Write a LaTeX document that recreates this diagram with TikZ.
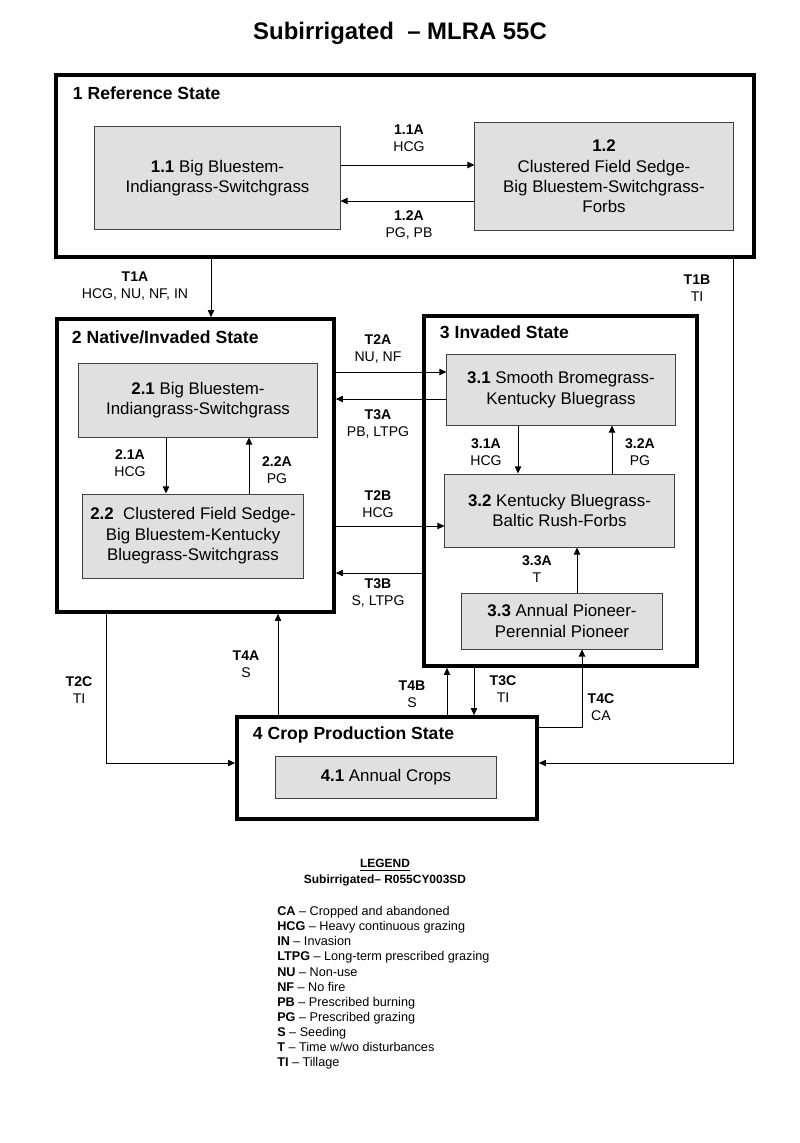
\documentclass[tikz,border=0pt]{standalone}
\usepackage{fontspec}
\setmainfont{Liberation Sans}
\usetikzlibrary{arrows.meta}

\begin{document}
\begin{tikzpicture}[x=0.025cm, y=-0.025cm,
  state/.style={draw, line width=2.6pt, inner sep=0pt},
  stitle/.style={anchor=west, font=\fontsize{12.5}{15}\selectfont\bfseries},
  comm/.style={draw=black!75, fill=black!12, line width=0.7pt, align=center, inner sep=0pt, font=\fontsize{12}{14.5}\selectfont},
  lbl/.style={align=center, font=\fontsize{10}{12.2}\selectfont},
  legitem/.style={anchor=base west, inner sep=0pt, font=\fontsize{9}{11}\selectfont},
  arr/.style={-{Triangle[length=5pt,width=4.5pt]}, line width=0.6pt}]
\path[fill=white, use as bounding box] (0,0) rectangle (800,1143);

% Title
\node[font=\fontsize{17}{20}\selectfont\bfseries] (title) at (400,33) {Subirrigated \ – MLRA 55C};

% State 1
\node[state, minimum width=17.45cm, minimum height=4.55cm] (s1) at (405,166) {};
\node[stitle] (t1) at (68,93) {1 Reference State};
\node[comm, minimum width=6.125cm, minimum height=2.55cm] (b11) at (217.5,178) {\textbf{1.1} Big Bluestem-\\Indiangrass-Switchgrass};
\node[comm, minimum width=6.45cm, minimum height=2.675cm] (b12) at (604,176.5) {\textbf{1.2}\\Clustered Field Sedge-\\Big Bluestem-Switchgrass-\\Forbs};
\draw[arr] (b11.east |- 0,165) -- (b12.west |- 0,165);
\draw[arr] (b12.west |- 0,201) -- (b11.east |- 0,201);
\node[lbl] (l11a) at (409,138) {\textbf{1.1A}\\HCG};
\node[lbl] (l12a) at (409,225) {\textbf{1.2A}\\PG, PB};

% State 2
\node[state, minimum width=6.925cm, minimum height=7.325cm] (s2) at (195.5,465.5) {};
\node[stitle] (t2) at (67,337) {2 Native/Invaded State};
\node[comm, minimum width=5.95cm, minimum height=1.85cm] (b21) at (198,400) {\textbf{2.1} Big Bluestem-\\Indiangrass-Switchgrass};
\node[comm, minimum width=5.5cm, minimum height=2.1cm] (b22) at (193,536) {\textbf{2.2} \ Clustered Field Sedge-\\Big Bluestem-Kentucky\\Bluegrass-Switchgrass};
\draw[arr] (b21.south -| 166,0) -- (b22.north -| 166,0);
\draw[arr] (b22.north -| 249,0) -- (b21.south -| 249,0);
\node[lbl] (l21a) at (130,463) {\textbf{2.1A}\\HCG};
\node[lbl] (l22a) at (277,470) {\textbf{2.2A}\\PG};

% State 3
\node[state, minimum width=6.825cm, minimum height=8.75cm] (s3) at (560.5,491) {};
\node[stitle] (t3) at (435,332) {3 Invaded State};
\node[comm, minimum width=5.7cm, minimum height=1.775cm] (b31) at (561,389.5) {\textbf{3.1} Smooth Bromegrass-\\Kentucky Bluegrass};
\node[comm, minimum width=5.725cm, minimum height=1.825cm] (b32) at (559.5,510.5) {\textbf{3.2} Kentucky Bluegrass-\\Baltic Rush-Forbs};
\node[comm, minimum width=5cm, minimum height=1.4cm] (b33) at (562,621) {\textbf{3.3} Annual Pioneer-\\Perennial Pioneer};
\draw[arr] (b31.south -| 518,0) -- (b32.north -| 518,0);
\draw[arr] (b32.north -| 612,0) -- (b31.south -| 612,0);
\draw[arr] (b33.north -| 577,0) -- (b32.south -| 577,0);
\node[lbl] (l31a) at (486,452) {\textbf{3.1A}\\HCG};
\node[lbl] (l32a) at (640,452) {\textbf{3.2A}\\PG};
\node[lbl] (l33a) at (537,569) {\textbf{3.3A}\\T};

% State 4
\node[state, minimum width=7.5cm, minimum height=2.55cm] (s4) at (387,768) {};
\node[stitle] (t4) at (248,735) {4 Crop Production State};
\node[comm, minimum width=5.5cm, minimum height=1.05cm] (b41) at (386,777) {\textbf{4.1} Annual Crops};

% Transitions between states
\draw[arr] (s1.south -| 211,0) -- (s2.north -| 211,0);
\node[lbl] (lt1a) at (135,286) {\textbf{T1A}\\HCG, NU, NF, IN};
\draw[arr] (s1.south -| 733,0) |- (s4.east |- 0,763);
\node[lbl] (lt1b) at (697,288) {\textbf{T1B}\\TI};
\draw[arr] (s2.east |- 0,372) -- (b31.west |- 0,372);
\node[lbl] (lt2a) at (378,349) {\textbf{T2A}\\NU, NF};
\draw[arr] (b31.west |- 0,399) -- (s2.east |- 0,399);
\node[lbl] (lt3a) at (378,424) {\textbf{T3A}\\PB, LTPG};
\draw[arr] (s2.east |- 0,526) -- (b32.west |- 0,526);
\node[lbl] (lt2b) at (378,504) {\textbf{T2B}\\HCG};
\draw[arr] (s3.west |- 0,573) -- (s2.east |- 0,573);
\node[lbl] (lt3b) at (378,593) {\textbf{T3B}\\S, LTPG};
\draw[arr] (s2.south -| 106,0) |- (s4.west |- 0,763);
\node[lbl] (lt2c) at (79,690) {\textbf{T2C}\\TI};
\draw[arr] (s4.north -| 278,0) -- (s2.south -| 278,0);
\node[lbl] (lt4a) at (246,664) {\textbf{T4A}\\S};
\draw[arr] (s4.north -| 447,0) -- (s3.south -| 447,0);
\node[lbl] (lt4b) at (412,694) {\textbf{T4B}\\S};
\draw[arr] (s3.south -| 474,0) -- (s4.north -| 474,0);
\node[lbl] (lt3c) at (503,689) {\textbf{T3C}\\TI};
\draw[arr] (s4.east |- 0,727) -| (b33.south -| 582,0);
\node[lbl] (lt4c) at (601,707) {\textbf{T4C}\\CA};

% Legend
\node[font=\fontsize{8.5}{10}\selectfont\bfseries] (leghead) at (385,865) {\underline{LEGEND}};
\node[font=\fontsize{8.5}{10}\selectfont\bfseries] (legsite) at (385,880) {Subirrigated– R055CY003SD};
\foreach \ab/\txt [count=\i] in {CA/Cropped and abandoned, HCG/Heavy continuous grazing,
    IN/Invasion, LTPG/Long-term prescribed grazing, NU/Non-use, NF/No fire,
    PB/Prescribed burning, PG/Prescribed grazing, S/Seeding,
    T/{Time w/wo disturbances}, TI/Tillage}
  \node[legitem] (leg\i) at (277,{900.5+15.1*\i}) {\textbf{\ab} – \txt};

\end{tikzpicture}
\end{document}
